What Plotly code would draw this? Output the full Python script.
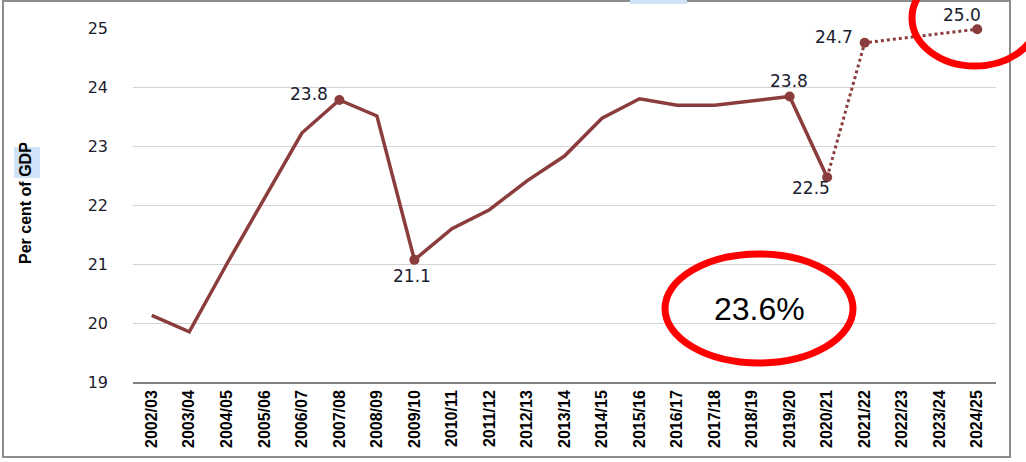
import plotly.graph_objects as go

years = ["2002/03", "2003/04", "2004/05", "2005/06", "2006/07", "2007/08", "2008/09",
         "2009/10", "2010/11", "2011/12", "2012/13", "2013/14", "2014/15", "2015/16",
         "2016/17", "2017/18", "2018/19", "2019/20", "2020/21", "2021/22", "2022/23",
         "2023/24", "2024/25"]

actual = [20.13, 19.85, 21.0, 22.12, 23.22, 23.78, 23.51, 21.07, 21.6, 21.92, 22.41,
          22.83, 23.47, 23.8, 23.69, 23.69, 23.77, 23.84, 22.47,
          None, None, None, None]

projected = [None] * 18 + [22.47, 24.75, None, None, 24.98]

label_years = ["2007/08", "2009/10", "2019/20", "2020/21", "2021/22", "2024/25"]
label_values = [23.78, 21.07, 23.84, 22.47, 24.75, 24.98]
label_texts = ["23.8", "21.1", "23.8", "22.5", "24.7", "25.0"]
# label offsets in pixels (style)
label_dx = [-30, -2, -1, -16, -31, -15]
label_dy = [6, -16, 15, -11, 6, 14]

callout_text = "23.6%"
y_title = "Per cent of GDP"

line_color = "#8b3d3d"

fig = go.Figure()
fig.add_trace(go.Scatter(x=years, y=actual, mode="lines",
                         line=dict(color=line_color, width=3.5), hoverinfo="skip"))
fig.add_trace(go.Scatter(x=years, y=projected, mode="lines", connectgaps=True,
                         line=dict(color=line_color, width=3, dash="dot"), hoverinfo="skip"))
fig.add_trace(go.Scatter(x=label_years, y=label_values, mode="markers",
                         marker=dict(color=line_color, size=10),
                         cliponaxis=False, hoverinfo="skip"))

# paper-coordinate helpers (plot area: x 133..996 px, y 28..382 px)
def px(v):
    return (v - 133) / 863.0

def py(v):
    return (382 - v) / 354.0

shapes = [
    dict(type="rect", xref="paper", yref="paper", x0=px(3), x1=px(1010), y0=py(457), y1=py(1),
         line=dict(color="#8c8c8c", width=2), layer="below"),
    dict(type="rect", xref="paper", yref="paper", x0=px(630), x1=px(687), y0=py(4), y1=py(-2),
         fillcolor="#cfe2f7", line=dict(width=0)),
    dict(type="rect", xref="paper", yref="paper", x0=px(14), x1=px(40), y0=py(178), y1=py(147),
         fillcolor="#cfe2f7", line=dict(width=0), layer="below"),
    dict(type="circle", xref="paper", yref="paper", x0=px(665), x1=px(853), y0=py(363), y1=py(254),
         line=dict(color="#ff0000", width=7)),
    dict(type="circle", xref="paper", yref="paper", x0=px(912), x1=px(1038), y0=py(66), y1=py(-30),
         line=dict(color="#ff0000", width=7)),
]

annotations = [
    dict(text=callout_text, xref="paper", yref="paper", x=px(759), y=py(309),
         showarrow=False, font=dict(family="Liberation Sans", size=32, color="#000000"),
         xanchor="center", yanchor="middle"),
    dict(text=y_title, xref="paper", yref="paper", x=px(25), y=py(203), textangle=-90,
         showarrow=False,
         font=dict(family="Liberation Sans Narrow, Liberation Sans", size=16, color="#000000",
                   weight="bold"),
         xanchor="center", yanchor="middle"),
]
for xv, yv, t, dx, dy in zip(label_years, label_values, label_texts, label_dx, label_dy):
    annotations.append(dict(x=xv, y=yv, xref="x", yref="y", text=t, showarrow=False,
                            xanchor="center", yanchor="middle", xshift=dx, yshift=dy,
                            font=dict(family="DejaVu Sans", size=17, color="#1a2030")))

fig.update_layout(
    width=1026, height=462,
    margin=dict(l=133, r=30, t=28, b=80),
    paper_bgcolor="white", plot_bgcolor="white",
    showlegend=False,
    shapes=shapes, annotations=annotations,
    xaxis=dict(type="category", categoryorder="array", categoryarray=years,
               tickangle=-90, showgrid=False, showline=True, linecolor="#7f7f7f", linewidth=1.5,
               ticks="", tickfont=dict(family="Liberation Sans", size=16, color="#000000",
                                       weight="bold"),
               range=[-0.5, 22.5]),
    yaxis=dict(range=[19, 25], dtick=1, showgrid=True, gridcolor="#d4d4d4", gridwidth=1,
               zeroline=False, showline=False, ticks="", ticklabelstandoff=24,
               tickfont=dict(family="DejaVu Sans", size=16, color="#1c1c2c")),
)

fig.write_html("out.html", config={"displayModeBar": False},
               post_script="document.body.style.margin='0';")
